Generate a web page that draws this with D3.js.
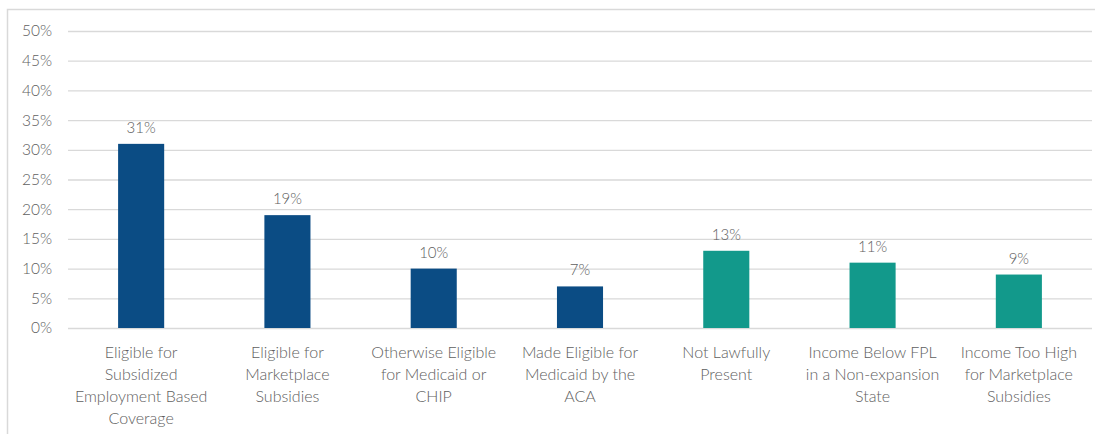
<!DOCTYPE html>
<html>
<head>
<meta charset="utf-8">
<script src="https://cdn.jsdelivr.net/npm/d3@7"></script>
<style>
  html, body { margin: 0; padding: 0; background: #ffffff; }
  svg { display: block; }
  text { font-family: Lato, "Open Sans", sans-serif; font-weight: 300; fill: #606060; }
</style>
</head>
<body>
<svg id="chart" width="1095" height="434"></svg>
<script>
// Reasons people remain uninsured (share of uninsured)
const categories = [
  ["Eligible for", "Subsidized", "Employment Based", "Coverage"],
  ["Eligible for", "Marketplace", "Subsidies"],
  ["Otherwise Eligible", "for Medicaid or", "CHIP"],
  ["Made Eligible for", "Medicaid by the", "ACA"],
  ["Not Lawfully", "Present"],
  ["Income Below FPL", "in a Non-expansion", "State"],
  ["Income Too High", "for Marketplace", "Subsidies"]
];
const values = [31, 19, 10, 7, 13, 11, 9];
const groups = ["eligible", "eligible", "eligible", "eligible", "ineligible", "ineligible", "ineligible"];
const yTicks = [0, 5, 10, 15, 20, 25, 30, 35, 40, 45, 50];

const svg = d3.select("#chart");
const W = 1095, H = 434;
const plotLeft = 68, plotRight = 1092, plotTop = 31, plotBottom = 328;

// Chart frame
svg.append("rect")
  .attr("x", 7.5).attr("y", 9.5)
  .attr("width", W + 10).attr("height", H + 10)
  .attr("fill", "#ffffff")
  .attr("stroke", "#d9d9d9").attr("stroke-width", 1.5);

const x = d3.scaleBand()
  .domain(d3.range(categories.length))
  .range([plotLeft, plotRight])
  .paddingInner(0.685)
  .paddingOuter(0.3425);

const y = d3.scaleLinear().domain([0, 50]).range([plotBottom, plotTop]);

const color = d3.scaleOrdinal()
  .domain(["eligible", "ineligible"])
  .range(["#0b4c84", "#12998b"]);

// Gridlines and y labels
const yAxis = d3.axisLeft(y)
  .tickValues(yTicks)
  .tickSize(-(plotRight - plotLeft))
  .tickPadding(16)
  .tickFormat(d => d + "%");

const gy = svg.append("g")
  .attr("transform", `translate(${plotLeft},0)`)
  .call(yAxis);
gy.select(".domain").remove();
gy.selectAll(".tick line").attr("stroke", "#d9d9d9").attr("stroke-width", 1.3);
gy.selectAll(".tick text")
  .attr("font-size", 15.5)
  .style("font-family", "Lato, 'Open Sans', sans-serif")
  .style("font-weight", 300)
  .attr("fill", "#606060");

// Bars
svg.append("g").selectAll("rect")
  .data(values)
  .join("rect")
  .attr("x", (d, i) => x(i))
  .attr("y", d => y(d))
  .attr("width", x.bandwidth())
  .attr("height", d => y(0) - y(d))
  .attr("fill", (d, i) => color(groups[i]));

// Value labels
svg.append("g").selectAll("text")
  .data(values)
  .join("text")
  .attr("x", (d, i) => x(i) + x.bandwidth() / 2)
  .attr("y", d => y(d) - 11)
  .attr("text-anchor", "middle")
  .attr("font-size", 15)
  .text(d => d + "%");

// Category labels
const cat = svg.append("g").selectAll("text")
  .data(categories)
  .join("text")
  .attr("text-anchor", "middle")
  .attr("font-size", 16)
  .attr("x", (d, i) => x(i) + x.bandwidth() / 2)
  .attr("y", 358);
cat.selectAll("tspan")
  .data(d => d)
  .join("tspan")
  .attr("x", function () { return d3.select(this.parentNode).attr("x"); })
  .attr("dy", (d, i) => i === 0 ? 0 : 22)
  .text(d => d);
</script>
</body>
</html>
